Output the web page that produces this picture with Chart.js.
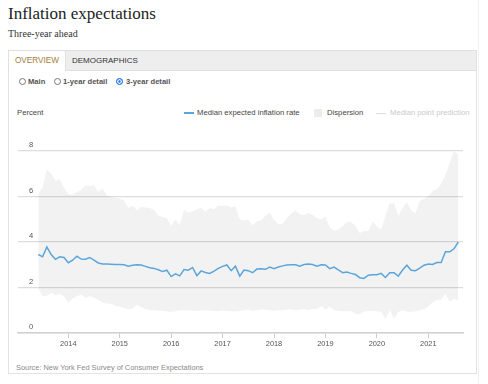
<!DOCTYPE html>
<html>
<head>
<meta charset="utf-8">
<script src="https://cdn.jsdelivr.net/npm/chart.js@4.4.0/dist/chart.umd.min.js"></script>
<style>
  body { margin: 0; width: 488px; height: 384px; background: #fff; position: relative; overflow: hidden;
         font-family: "Liberation Sans", Arial, sans-serif; }
  .abs { position: absolute; white-space: nowrap; }
  .title { left: 8px; top: 5px; font-family: "Liberation Serif", serif; font-size: 17px; line-height: 17px; color: #222; }
  .sub { left: 8px; top: 29px; font-family: "Liberation Serif", serif; font-size: 10px; line-height: 10px; color: #333; }
  .panel { left: 8px; top: 50px; width: 469px; height: 324px; border: 1px solid #e3e3e3; box-sizing: border-box; }
  .tabbar { left: 8px; top: 50px; width: 469px; height: 21px; background: #eeeeee; border: 1px solid #e0e0e0; box-sizing: border-box; }
  .tab-on { left: 9px; top: 51px; width: 56px; height: 20px; background: #fff; border-right: 1px solid #e0e0e0;
            color: #a57d3c; font-size: 8.2px; line-height: 20px; text-align: center; }
  .tab-off { left: 72px; top: 51px; color: #333; font-size: 8px; line-height: 20px; }
  .radio { top: 78px; width: 5px; height: 5px; border: 1px solid #777; border-radius: 50%; background: #fff; }
  .radio.on { border-color: #1a73e8; background: #1a73e8; box-shadow: inset 0 0 0 1.2px #fff; }
  .rlab { top: 77px; font-size: 7.6px; line-height: 10px; font-weight: bold; color: #555; }
  .lg { top: 108px; font-size: 7.7px; line-height: 10px; color: #444; }
  .lgline { top: 112px; width: 10px; height: 2px; }
  .lgbox { top: 109px; width: 8px; height: 8px; background: #ececec; }
  .src { left: 16px; top: 363px; font-size: 7.4px; line-height: 10px; color: #8a8a8a; }
  .edge { left: 478px; top: 0; width: 1px; height: 384px; background: #f2f2f2; }
  canvas { position: absolute; left: 8px; top: 120px; }
</style>
</head>
<body>
<div class="abs title">Inflation expectations</div>
<div class="abs sub">Three-year ahead</div>
<div class="abs panel"></div>
<div class="abs tabbar"></div>
<div class="abs tab-on">OVERVIEW</div>
<div class="abs tab-off">DEMOGRAPHICS</div>
<div class="abs radio" style="left:19px"></div><div class="abs rlab" style="left:28px">Main</div>
<div class="abs radio" style="left:54px"></div><div class="abs rlab" style="left:63px">1-year detail</div>
<div class="abs radio on" style="left:116px"></div><div class="abs rlab" style="left:126px">3-year detail</div>
<div class="abs lg" style="left:17px">Percent</div>
<div class="abs lgline" style="left:184px;background:#5aa6da"></div>
<div class="abs lg" style="left:197px">Median expected inflation rate</div>
<div class="abs lgbox" style="left:314px"></div>
<div class="abs lg" style="left:327px">Dispersion</div>
<div class="abs lgline" style="left:376px;background:#dddddd;height:1px;top:113px"></div>
<div class="abs lg" style="left:390px;color:#c9c9c9">Median point prediction</div>
<div class="abs src">Source: New York Fed Survey of Consumer Expectations</div>
<div class="abs edge"></div>
<canvas id="chart" width="470" height="240"></canvas>
<script>
// survey months, June 2013 - August 2021
const startYear = 2013, startMonth = 6;

// median expected inflation rate, three-year ahead (%)
const median = [
  3.45, 3.35, 3.78, 3.45, 3.24, 3.35, 3.32, 3.09, 3.2, 3.38,
  3.25, 3.24, 3.32, 3.2, 3.08, 3.03, 3.03, 3.02, 3.01, 3.01,
  3.0, 2.94, 2.98, 3.0, 2.99, 2.93, 2.87, 2.84, 2.78, 2.7,
  2.76, 2.48, 2.6, 2.51, 2.79, 2.76, 2.88, 2.52, 2.73, 2.66,
  2.62, 2.72, 2.84, 2.93, 2.99, 2.74, 2.94, 2.5, 2.77, 2.74,
  2.65, 2.81, 2.82, 2.8, 2.9, 2.83, 2.9, 2.95, 2.99, 3.0,
  3.0, 2.94, 3.01, 3.03, 3.01, 2.94, 3.0, 2.99, 2.83, 2.9,
  2.78, 2.65, 2.68, 2.62, 2.57, 2.43, 2.4, 2.54, 2.56, 2.56,
  2.62, 2.44, 2.65, 2.65, 2.5, 2.77, 2.98, 2.76, 2.74, 2.85,
  2.98, 3.03, 3.01, 3.1, 3.1, 3.57, 3.57, 3.7, 4.0
];

// dispersion band: upper edge
const dispHigh = [
  6.12, 6.4, 7.2, 7.0, 6.7, 6.75, 6.4, 6.1, 6.08, 6.2,
  6.27, 6.5, 6.45, 6.5, 6.2, 6.35, 6.05, 5.97, 5.95, 5.9,
  5.82, 5.5, 5.6, 5.4, 5.55, 5.52, 5.5, 5.42, 5.15, 5.1,
  5.05, 4.7, 5.0, 4.74, 5.42, 5.3, 5.35, 5.45, 5.5, 5.35,
  5.5, 5.45, 5.6, 5.58, 5.62, 5.52, 5.58, 5.0, 4.94, 4.98,
  4.72, 4.92, 4.95, 5.15, 5.3, 4.98, 4.78, 4.8, 5.05, 5.25,
  5.38, 5.23, 5.18, 5.28, 5.2, 5.05, 5.0, 5.12, 4.64, 4.5,
  4.55, 4.7, 4.88, 4.88, 4.72, 4.38, 4.5, 4.48, 4.9, 4.68,
  4.55, 5.15, 5.7, 5.7, 5.15, 5.5, 5.75, 5.38, 5.25, 5.8,
  5.9, 6.0, 6.25, 6.33, 6.55, 6.95, 7.5, 8.0, 7.82
];

// dispersion band: lower edge
const dispLow = [
  1.95, 1.6, 1.64, 1.76, 1.66, 1.72, 1.6, 1.32, 1.52, 1.62,
  1.68, 1.54, 1.63, 1.55, 1.45, 1.35, 1.29, 1.29, 1.2, 1.16,
  1.1, 1.04, 1.08, 1.24, 1.14, 1.05, 1.0, 1.0, 0.98, 0.97,
  0.95, 0.92, 0.96, 1.0, 1.0, 1.0, 0.98, 0.97, 0.99, 1.0,
  0.98, 0.97, 0.96, 0.98, 0.97, 0.96, 0.95, 0.97, 1.0, 1.02,
  0.98, 1.0, 1.03, 1.02, 1.0, 0.99, 1.01, 1.0, 1.02, 1.03,
  1.0, 1.02, 1.03, 1.0, 1.05, 1.05, 1.18, 1.03, 1.15, 1.0,
  0.97, 0.96, 0.96, 0.96, 0.85, 0.82, 0.95, 0.97, 0.97, 0.95,
  0.93, 0.63, 1.0, 0.63, 0.92, 1.0, 0.95, 0.92, 0.96, 1.0,
  1.03, 1.15, 1.35, 1.45, 1.47, 1.72, 1.37, 1.5, 1.42
];

const yTicks = [0, 2, 4, 6, 8];

// month labels like "2014-01"
const months = median.map((_, i) => {
  const m = startMonth - 1 + i;
  const y = startYear + Math.floor(m / 12);
  return y + '-' + String(m % 12 + 1).padStart(2, '0');
});
// x positions of the January ticks
const janIdx = months.map((m, i) => m.endsWith('-01') ? i : -1).filter(i => i >= 0);

const toXY = arr => arr.map((v, i) => ({ x: i, y: v }));

new Chart(document.getElementById('chart'), {
  type: 'line',
  data: {
    datasets: [
      // first dataset is drawn on top
      { label: 'Median expected inflation rate', data: toXY(median), borderColor: '#5aa6da',
        borderWidth: 1.5, pointRadius: 0, fill: false, tension: 0 },
      { label: 'Dispersion', data: toXY(dispHigh), borderWidth: 0, pointRadius: 0,
        fill: '+1', backgroundColor: 'rgba(0,0,0,0.052)' },
      { label: 'Dispersion low', data: toXY(dispLow), borderWidth: 0, pointRadius: 0, fill: false }
    ]
  },
  options: {
    responsive: false,
    animation: false,
    layout: { padding: { left: 10, right: 15, top: 31, bottom: 0 } },
    plugins: { legend: { display: false }, tooltip: { enabled: false } },
    scales: {
      x: {
        type: 'linear',
        min: -4.74,
        max: 99.1,
        afterBuildTicks: s => { s.ticks = janIdx.map(v => ({ value: v })); },
        afterFit: s => { s.height = 27; },
        grid: { drawOnChartArea: false, drawTicks: true, tickLength: 5, color: '#cccccc' },
        border: { display: true, color: '#d0d0d0', width: 1.5 },
        ticks: {
          autoSkip: false, maxRotation: 0, padding: 2, color: '#555',
          font: { size: 7.4, family: 'Liberation Sans' },
          callback: v => months[v] ? months[v].slice(0, 4) : ''
        }
      },
      y: {
        min: 0,
        max: 8,
        afterBuildTicks: s => { s.ticks = yTicks.map(v => ({ value: v })); },
        afterFit: s => { s.width = 0; },
        grid: { color: '#dddddd', lineWidth: 1.2, drawTicks: false },
        border: { display: false },
        ticks: { mirror: true, padding: 11, labelOffset: -6, color: '#555',
                 font: { size: 7.6, family: 'Liberation Sans' } }
      }
    }
  }
});
</script>
</body>
</html>
